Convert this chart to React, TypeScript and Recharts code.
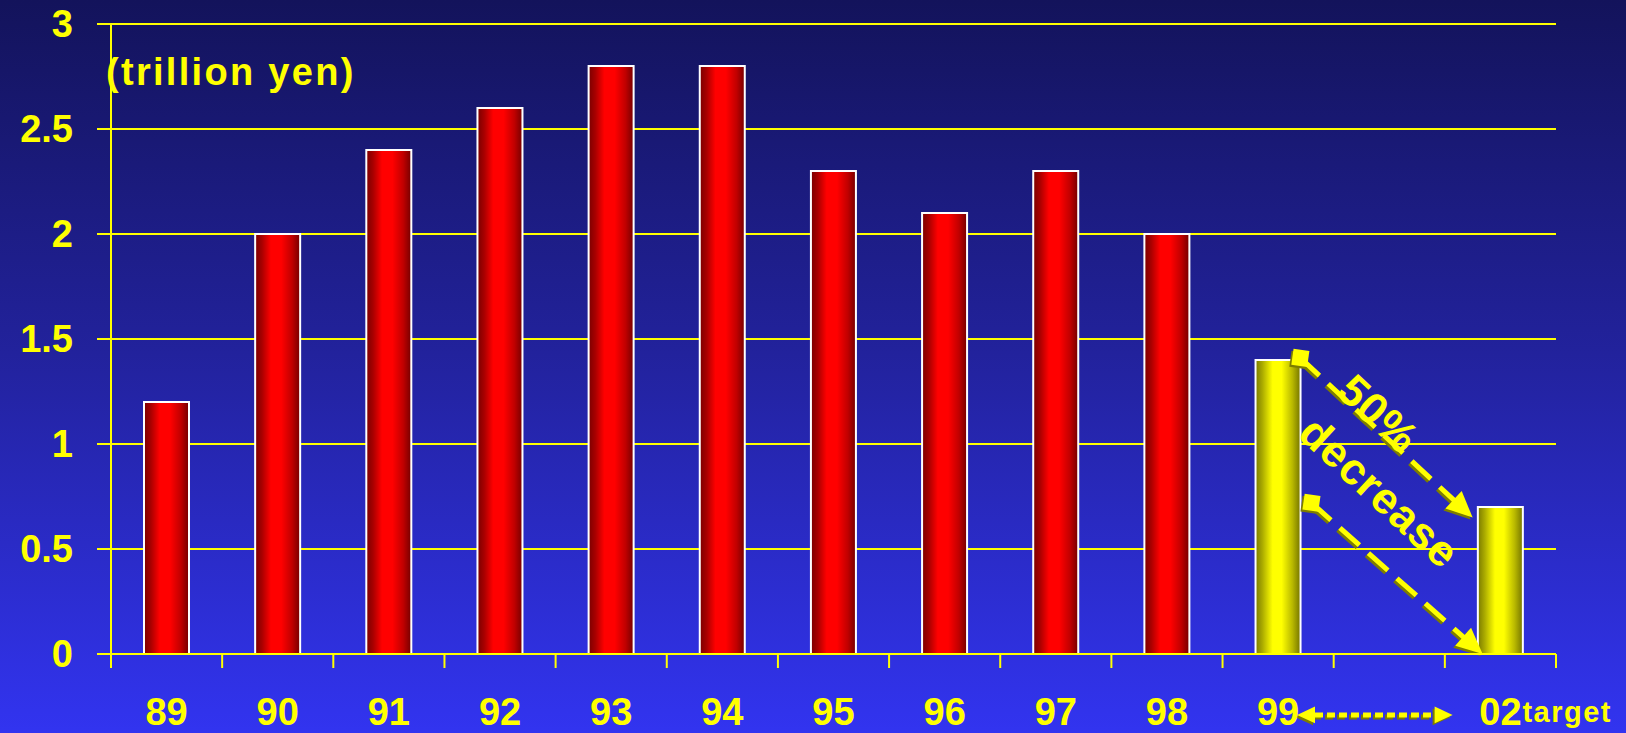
import { BarChart, Bar, XAxis, YAxis, CartesianGrid, Cell, ReferenceLine } from 'recharts'

const YEARS = ['89', '90', '91', '92', '93', '94', '95', '96', '97', '98', '99', '', '02']
const SPENDING = [1.2, 2.0, 2.4, 2.6, 2.8, 2.8, 2.3, 2.1, 2.3, 2.0, 1.4, null, 0.7]
const REDUCED_YEARS = ['99', '02']
const TARGET_YEAR = '02'
const Y_TICKS = [0, 0.5, 1, 1.5, 2, 2.5, 3]

// bars sit on whole slot numbers, axis ticks on the slot edges
const SLOTS = YEARS.map((_, i) => i)
const SLOT_EDGES = [...SLOTS.map(i => i - 0.5), YEARS.length - 0.5]

// annotation arrows, in data units (slot, trillion yen)
const CUT_ARROW = [{ x: 10.2, y: 1.41 }, { x: 11.75, y: 0.65 }]
const BASE_ARROW = [{ x: 10.3, y: 0.72 }, { x: 11.84, y: 0 }]
const SPAN_ARROW = [{ x: 10.17, y: -0.29 }, { x: 11.57, y: -0.29 }]

const data = YEARS.map((year, i) => ({ pos: i, year, value: SPENDING[i] }))

const YELLOW = '#ffff00'
const OLIVE = '#7d7d00'
const FONT = '"Liberation Sans", Arial, sans-serif'

function headPoints(x: number, y: number, ang: number, len: number, half: number) {
  const bx = x - Math.cos(ang) * len
  const by = y - Math.sin(ang) * len
  const px = -Math.sin(ang) * half
  const py = Math.cos(ang) * half
  return `${x},${y} ${bx + px},${by + py} ${bx - px},${by - py}`
}

type ArrowOpts = { dash: string; width: number; head: number; square?: boolean; both?: boolean; caption?: boolean }

const dashedArrow = (o: ArrowOpts) => (props: any) => {
  const { x1, y1, x2, y2 } = props
  const ang = Math.atan2(y2 - y1, x2 - x1)
  const cos = Math.cos(ang), sin = Math.sin(ang)
  const sx = o.both ? x1 + cos * o.head : x1
  const sy = o.both ? y1 + sin * o.head : y1
  const ex = x2 - cos * (o.head - 2)
  const ey = y2 - sin * (o.head - 2)
  const mx = (x1 + x2) / 2
  const my = (y1 + y2) / 2
  const deg = (ang * 180) / Math.PI
  const body = (color: string) => (
    <>
      <line x1={sx} y1={sy} x2={ex} y2={ey} stroke={color} strokeWidth={o.width} strokeDasharray={o.dash} />
      <polygon points={headPoints(x2, y2, ang, o.head, o.head * 0.46)} fill={color} />
      {o.both && <polygon points={headPoints(x1, y1, ang + Math.PI, o.head, o.head * 0.46)} fill={color} />}
      {o.square && (
        <rect x={x1 - 8} y={y1 - 8} width={16} height={16} fill={color} transform={`rotate(8 ${x1} ${y1})`} />
      )}
    </>
  )
  return (
    <g>
      {/* olive drop shade on the lower-left, then the yellow arrow on top */}
      <g transform="translate(-2 2)">{body(OLIVE)}</g>
      {body(YELLOW)}
      {o.caption && (
        <g transform={`translate(${mx},${my}) rotate(${deg})`} fill={YELLOW} fontFamily={FONT} fontWeight={700} fontSize={44} textAnchor="middle">
          <text x={-22} y={3} letterSpacing={1}>50%</text>
          <text x={32} y={60} letterSpacing={1}>decrease</text>
        </g>
      )}
    </g>
  )
}

const YearTick = ({ x, payload }: any) => {
  const label = YEARS[payload.value] ?? ''
  const base = 725
  return (
    <g fill={YELLOW} fontFamily={FONT} fontWeight={700}>
      <text x={x} y={base} textAnchor="middle" fontSize={38}>{label}</text>
      {label === TARGET_YEAR && (
        <text x={x + 22} y={base - 3} fontSize={29} letterSpacing={1.5}>target</text>
      )}
    </g>
  )
}

export default function App() {
  return (
    <div
      style={{
        position: 'absolute', left: 0, top: 0, width: 1626, height: 733,
        background: 'linear-gradient(to bottom, #13135b 0%, #22229c 48%, #3234f0 100%)',
      }}
    >
      <BarChart width={1626} height={733} data={data} margin={{ top: 24, right: 70, bottom: 77, left: 0 }}>
        <defs>
          <linearGradient id="redBar" x1="0" y1="0" x2="1" y2="0">
            <stop offset="0%" stopColor="#7a0000" />
            <stop offset="15%" stopColor="#a80000" />
            <stop offset="35%" stopColor="#ff0000" />
            <stop offset="58%" stopColor="#ff0000" />
            <stop offset="82%" stopColor="#c00000" />
            <stop offset="100%" stopColor="#740000" />
          </linearGradient>
          <linearGradient id="yellowBar" x1="0" y1="0" x2="1" y2="0">
            <stop offset="0%" stopColor="#7a7a00" />
            <stop offset="15%" stopColor="#aaaa00" />
            <stop offset="38%" stopColor="#ffff00" />
            <stop offset="58%" stopColor="#ffff00" />
            <stop offset="82%" stopColor="#b8b800" />
            <stop offset="100%" stopColor="#747400" />
          </linearGradient>
        </defs>
        <CartesianGrid vertical={false} stroke={YELLOW} strokeWidth={2} xAxisId="band" />
        {/* two thin bottom axes: slot-edge tick marks, and the year labels under the bars */}
        <XAxis
          xAxisId="band" type="number" dataKey="pos" domain={[-0.5, YEARS.length - 0.5]}
          ticks={SLOT_EDGES} interval={0} height={1} tickSize={14}
          axisLine={{ stroke: YELLOW, strokeWidth: 2 }} tickLine={{ stroke: YELLOW, strokeWidth: 2 }}
          tickFormatter={() => ''}
        />
        <XAxis
          xAxisId="year" type="number" dataKey="pos" domain={[-0.5, YEARS.length - 0.5]}
          ticks={SLOTS} interval={0} height={1} tickSize={0} tickMargin={0}
          axisLine={false} tickLine={false} tick={<YearTick />}
        />
        <YAxis
          domain={[0, 3]} ticks={Y_TICKS} interval={0} width={111} tickSize={14} tickMargin={24}
          axisLine={{ stroke: YELLOW, strokeWidth: 2 }} tickLine={{ stroke: YELLOW, strokeWidth: 2 }}
          tick={{ fill: YELLOW, fontSize: 38, fontWeight: 700, fontFamily: FONT }}
        />
        <Bar dataKey="value" xAxisId="band" barSize={45} stroke="#ffffff" strokeWidth={2} isAnimationActive={false}>
          {data.map(d => (
            <Cell key={d.pos} fill={REDUCED_YEARS.includes(d.year) ? 'url(#yellowBar)' : 'url(#redBar)'} />
          ))}
        </Bar>
        <ReferenceLine xAxisId="band" segment={CUT_ARROW} ifOverflow="visible"
          shape={dashedArrow({ dash: '26 12', width: 5, head: 26, square: true, caption: true })} />
        <ReferenceLine xAxisId="band" segment={BASE_ARROW} ifOverflow="visible"
          shape={dashedArrow({ dash: '26 12', width: 5, head: 26, square: true })} />
        <ReferenceLine xAxisId="band" segment={SPAN_ARROW} ifOverflow="visible"
          shape={dashedArrow({ dash: '8 4', width: 5, head: 18, both: true })} />
      </BarChart>
      <div
        style={{
          position: 'absolute', left: 106, top: 53, color: YELLOW, fontFamily: FONT,
          fontWeight: 700, fontSize: 38, lineHeight: 1, letterSpacing: 2.3, whiteSpace: 'nowrap',
        }}
      >
        (trillion yen)
      </div>
    </div>
  )
}
